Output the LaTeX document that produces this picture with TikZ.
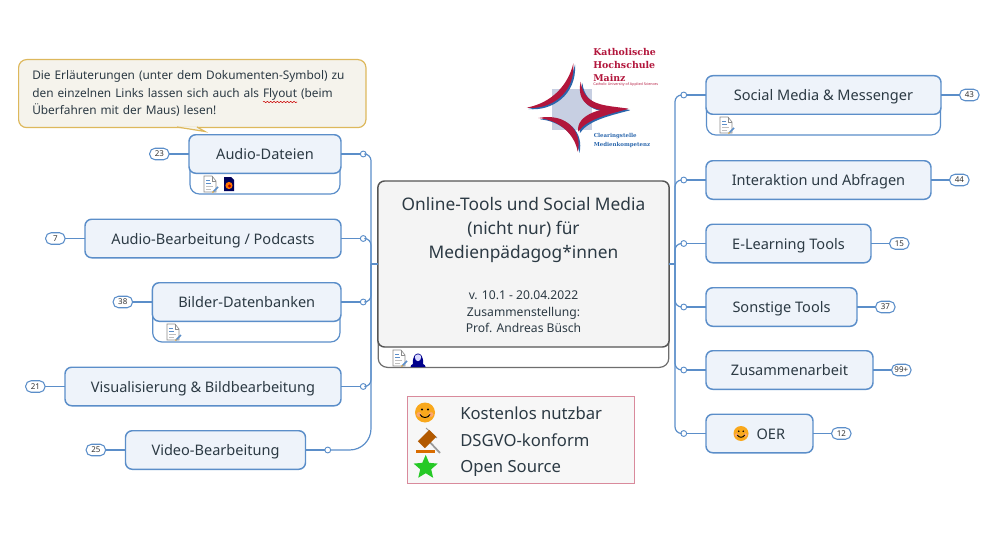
\documentclass[tikz,border=0pt]{standalone}
\usepackage{fontspec}
\usepackage{xcolor}
\usetikzlibrary{positioning}
\usetikzlibrary{shapes.geometric}
\usetikzlibrary{decorations.pathmorphing}
\setmainfont{Noto Sans}
\newfontfamily\logofont{DejaVu Serif}
\definecolor{linkblue}{HTML}{5B8EC9}
\definecolor{topicfill}{HTML}{EEF3FA}
\definecolor{textdark}{HTML}{2C3A44}
\definecolor{notefill}{HTML}{F5F3EC}
\definecolor{noteline}{HTML}{DDB85C}
\definecolor{rootline}{HTML}{555555}
\definecolor{rootfill}{HTML}{F4F4F4}
\definecolor{legendline}{HTML}{D98A9C}
\definecolor{legendfill}{HTML}{F7F7F7}
\definecolor{logored}{HTML}{B2163C}
\definecolor{logoblue}{HTML}{2A66AC}
\definecolor{logosquare}{HTML}{C7CFE2}
\definecolor{smileorange}{HTML}{F9A81C}
\tikzset{
  docicon/.pic={
    \draw[black!45, fill=white, line width=.5pt] (-6,-8) -- (2,-8) -- (6,-3) -- (6,8) -- (-6,8) -- cycle;
    \draw[black!45, line width=.4pt] (2,-8) -- (2,-3) -- (6,-3);
    \draw[linkblue, line width=.7pt] (-4,-4) -- (0,-4) (-4,-1) -- (1,-1);
    \draw[black!25, line width=.5pt] (-4,2) -- (3,2) (-4,5) -- (1,5);
    \draw[linkblue, line width=1.1pt] (3,8) -- (8,3);
    \fill[smileorange] (2.2,8.8) -- (3,7) -- (4,8) -- cycle;
  },
  fireicon/.pic={
    \fill[blue!35!black] (-5,-7) -- (2,-7) -- (5,-4) -- (5,7) -- (-5,7) -- cycle;
    \fill[orange!90!red] (0,1.5) circle (3.6);
    \fill[red!70!black] (0.5,2) circle (1.6);
  },
  personicon/.pic={
    \fill[blue!55!black] (-7.5,8) .. controls (-7.5,5) and (-4,4.5) .. (0,4.5) .. controls (4,4.5) and (7.5,5) .. (7.5,8) -- cycle;
    \fill[blue!55!black] (-5,5) .. controls (-6.5,-9) and (6.5,-9) .. (5,5) -- cycle;
    \fill[white!85!blue] (-3.2,-2) .. controls (-3.2,-5.5) and (3.2,-5.5) .. (3.2,-2) .. controls (3.2,3.5) and (-3.2,3.5) .. (-3.2,-2) -- cycle;
  },
  smiley/.pic={
    \fill[smileorange] (0,0) circle (10);
    \fill[red!35, opacity=.6] (-6,2) circle (2.4) (6,2) circle (2.4);
    \fill[black] (-3,-3) circle (1.1) (3,-3) circle (1.1);
    \draw[black, line width=.7pt] (-5,2) .. controls (-3,6) and (3,6) .. (5,2);
  },
  gavel/.pic={
    \draw[black!40, line width=1.3pt] (0,0) -- (13,14);
    \draw[black!40, line width=.7pt] (-1,-11) -- (10,-1);
    \fill[orange!70!black] (9.2,-2.2) -- (2.2,-9.2) -- (-9.2,2.2) -- (-2.2,9.2) -- cycle;
    \fill[orange!85!black] (-11,11) rectangle (8,14);
  }
}
\begin{document}
\begin{tikzpicture}
[
x=0.75pt, y=-0.75pt,
topic/.style={rectangle, draw=linkblue, fill=topicfill, line width=1.1pt, rounded corners=5pt, minimum height=28.9pt, inner sep=0pt, outer sep=0pt, text=textdark, text height=10.6pt, text depth=2pt, font=\fontsize{10.9}{12}\selectfont},
topic-lb/.style={rectangle, draw=linkblue, fill=white, line width=.9pt, rounded corners=7pt, inner sep=0pt, outer sep=0pt},
badge/.style={rectangle, draw=linkblue, fill=white, line width=.8pt, rounded corners=4pt, minimum width=14.5pt, minimum height=8.6pt, inner sep=0pt, outer sep=0pt, text=black!80, font=\fontsize{6}{6}\selectfont},
dot/.style={circle, draw=linkblue, fill=white, line width=.7pt, minimum size=4.4pt, inner sep=0pt, outer sep=0pt},
link/.style={draw=linkblue, line width=1.2pt},
branch/.style={draw=linkblue, line width=.9pt, rounded corners=5pt},
legend-text/.style={text=textdark, anchor=west, inner sep=0pt, text height=9pt, text depth=2.8pt, font=\fontsize{12.5}{14}\selectfont},
logo-red/.style={text=logored, anchor=west, inner sep=0pt, font=\logofont\bfseries\fontsize{7.05}{8}\selectfont},
logo-blue/.style={text=logoblue, anchor=west, inner sep=0pt, font=\logofont\bfseries\fontsize{4.1}{5}\selectfont}
]
\useasboundingbox (0,0) rectangle (1000,560);

% logo
\fill[logosquare] (552,89) rectangle (592,130);
\begin{scope}[shift={(510,35)}, scale=1/3]
\foreach \armcol/\armdx/\armdy in {logoblue/5/4, logored/0/0}
{
\fill[\armcol, shift={(\armdx,\armdy)}] (190,85) .. controls (175,148) and (128,203) .. (50,218) .. controls (120,226) and (196,176) .. (190,85) -- cycle;
\fill[\armcol, shift={(\armdx,\armdy)}] (85,249) .. controls (150,255) and (195,300) .. (203,350) .. controls (218,292) and (172,232) .. (85,249) -- cycle;
\fill[\armcol, shift={(\armdx,\armdy)}] (212,140) .. controls (195,215) and (265,240) .. (355,221) .. controls (285,210) and (222,215) .. (212,140) -- cycle;
\fill[\armcol, shift={(\armdx,\armdy)}] (355,222) .. controls (280,210) and (195,240) .. (205,290) .. controls (228,255) and (285,240) .. (355,222) -- cycle;
}
\end{scope}
\node (logo-a) [logo-red]  at (593,52)  {Katholische};
\node (logo-b) [logo-red]  at (593,65)  {Hochschule};
\node (logo-c) [logo-red]  at (593,78)  {Mainz};
\node (logo-d) [text=logored, anchor=west, inner sep=0pt, font=\bfseries\fontsize{2.7}{3}\selectfont] at (593,85) {Catholic University of Applied Sciences};
\node (logo-e) [logo-blue] at (593.5,136) {Clearingstelle};
\node (logo-f) [logo-blue] at (593.5,144.5) {Medienkompetenz};

% note
\node (flyout-note) [rectangle, draw=noteline, fill=notefill, line width=.9pt, rounded corners=6pt, text width=240pt, inner xsep=10.25pt, inner ysep=0pt, minimum height=51pt, anchor=north west, align=left, text=textdark, font=\fontsize{8.9}{12.9}\selectfont] at (18,59) {Die Erläuterungen (unter dem Dokumenten-Symbol) zu den einzelnen Links lassen sich auch als Flyout (beim Überfahren mit der Maus) lesen!};
\coordinate (tail-a) at (177,127);
\coordinate (tail-b) at (197,127);
\coordinate (tail-c) at (205,131.5);
\draw[draw=noteline, fill=notefill, line width=.9pt] (tail-a) -- (tail-c) -- (tail-b);
\draw[red!80!black, line width=.4pt, decorate, decoration={snake, amplitude=.5pt, segment length=2.5pt}] (263,102) -- (297,102);

% root
\node (central-lb) [rectangle, draw=rootline!85, fill=white, line width=.9pt, rounded corners=7pt, minimum width=218pt, minimum height=30pt, inner sep=0pt, anchor=south] at (523.5,368) {};
\node (central)    [rectangle, draw=rootline, fill=rootfill, line width=1.1pt, rounded corners=5pt, minimum width=218.5pt, minimum height=124.5pt, inner sep=0pt, outer sep=0pt] at (523.5,264) {};
\node (central-title) [below = 9pt of central.north, align=center, text=textdark, font=\fontsize{13}{18}\selectfont] {Online-Tools und Social Media\\(nicht nur) für\\Medienpädagog*innen};
\node (central-sub)   [below = 79pt of central.north, align=center, text=textdark, font=\fontsize{9.1}{12.3}\selectfont] {v. 10.1 - 20.04.2022\\Zusammenstellung:\\Prof. Andreas Büsch};
\pic at (399,358) {docicon};
\pic at (418,359) {personicon};

% left topics
\node (audio-dateien-lb) [topic-lb, minimum width=112.5pt, minimum height=28pt, anchor=south east] at (340,194) {};
\node (bilder-lb)        [topic-lb, minimum width=140.5pt, minimum height=28pt, anchor=south east] at (340,342) {};
\node (audio-dateien) [topic, minimum width=114pt,   anchor=east] at (341,154)   {Audio-Dateien};
\node (audio-podcast) [topic, minimum width=192pt,   anchor=east] at (341,238.5) {Audio-Bearbeitung / Podcasts};
\node (bilder)        [topic, minimum width=141.4pt, anchor=east] at (341,302)   {Bilder-Datenbanken};
\node (visual)        [topic, minimum width=207pt,   anchor=east] at (341,386.5) {Visualisierung \& Bildbearbeitung};
\node (video)         [topic, minimum width=135pt,   anchor=east] at (305.5,450) {Video-Bearbeitung};
\pic at (210,184) {docicon};
\pic at (229,184) {fireicon};
\pic at (173,332) {docicon};

\node (audio-dateien-nr) [badge, left = 15pt of audio-dateien] {23};
\node (audio-podcast-nr) [badge, left = 15pt of audio-podcast] {7};
\node (bilder-nr)        [badge, left = 15pt of bilder]        {38};
\node (visual-nr)        [badge, left = 15pt of visual]        {21};
\node (video-nr)         [badge, left = 15pt of video]         {25};

\node (audio-dateien-dot) [dot, right = 14.5pt of audio-dateien] {};
\node (audio-podcast-dot) [dot, right = 14.5pt of audio-podcast] {};
\node (bilder-dot)        [dot, right = 14.5pt of bilder]        {};
\node (visual-dot)        [dot, right = 14.5pt of visual]        {};
\node (video-dot)         [dot, right = 14.5pt of video]         {};

% right topics
\node (social-lb) [topic-lb, minimum width=175.5pt, minimum height=28pt, anchor=south west] at (706.5,135) {};
\node (social)    [topic, minimum width=176.25pt, anchor=west] at (706,95)  {Social Media \& Messenger};
\node (interakt)  [topic, minimum width=168.75pt, anchor=west] at (706,180) {Interaktion und Abfragen};
\node (elearn)    [topic, minimum width=123.75pt, anchor=west] at (706,243.5) {E-Learning Tools};
\node (sonstige)  [topic, minimum width=113.25pt, anchor=west] at (706,307) {Sonstige Tools};
\node (zusammen)  [topic, minimum width=125.25pt, anchor=west] at (706,370) {Zusammenarbeit};
\node (oer)       [topic, minimum width=80.25pt,  anchor=west] at (706,433.5) {\hspace{17pt}OER};
\pic at (726,125) {docicon};
\pic[scale=.75] at (741,433.5) {smiley};

\node (social-nr)   [badge, right = 14pt of social]   {43};
\node (interakt-nr) [badge, right = 14pt of interakt] {44};
\node (elearn-nr)   [badge, right = 14pt of elearn]   {15};
\node (sonstige-nr) [badge, right = 14pt of sonstige] {37};
\node (zusammen-nr) [badge, right = 14pt of zusammen] {99+};
\node (oer-nr)      [badge, right = 14pt of oer]      {12};

\node (social-dot)   [dot, left = 14.5pt of social]   {};
\node (interakt-dot) [dot, left = 14.5pt of interakt] {};
\node (elearn-dot)   [dot, left = 14.5pt of elearn]   {};
\node (sonstige-dot) [dot, left = 14.5pt of sonstige] {};
\node (zusammen-dot) [dot, left = 14.5pt of zusammen] {};
\node (oer-dot)      [dot, left = 14.5pt of oer]      {};

% connectors
\coordinate (spine-l) at (371,264);
\coordinate (spine-r) at (675,264);
\draw[branch] (central.west) -- (spine-l);
\draw[branch] (central.east) -- (spine-r);
\draw[branch] (audio-dateien-dot) -| (spine-l);
\draw[branch] (audio-podcast-dot) -| (spine-l);
\draw[branch] (bilder-dot)        -| (spine-l);
\draw[branch] (visual-dot)        -| (spine-l);
\draw[branch, rounded corners=16pt] (video-dot) -| (spine-l);
\draw[branch] (social-dot)   -| (spine-r);
\draw[branch] (interakt-dot) -| (spine-r);
\draw[branch] (elearn-dot)   -| (spine-r);
\draw[branch] (sonstige-dot) -| (spine-r);
\draw[branch] (zusammen-dot) -| (spine-r);
\draw[branch] (oer-dot)      -| (spine-r);
\foreach \nodeid in {audio-dateien, audio-podcast, bilder, visual, video, social, interakt, elearn, sonstige, zusammen, oer}
{
\draw[link] (\nodeid) -- (\nodeid-dot);
\draw[link, line width=.9pt] (\nodeid) -- (\nodeid-nr);
}

% legend
\node (legend) [rectangle, draw=legendline, fill=legendfill, line width=.8pt, minimum width=170.5pt, minimum height=65.5pt, inner sep=0pt, anchor=north west] at (407,396) {};
\pic at (425,412.5) {smiley};
\pic at (427,439) {gavel};
\node (legend-star) [star, star points=5, star point ratio=2.2, fill=green!75!black!85, minimum size=19pt, inner sep=0pt] at (425.7,467.5) {};
\node (legend-a) [legend-text] at (460,415) {Kostenlos nutzbar};
\node (legend-b) [legend-text] at (460,442) {DSGVO-konform};
\node (legend-c) [legend-text] at (460,468) {Open Source};
\end{tikzpicture}
\end{document}
